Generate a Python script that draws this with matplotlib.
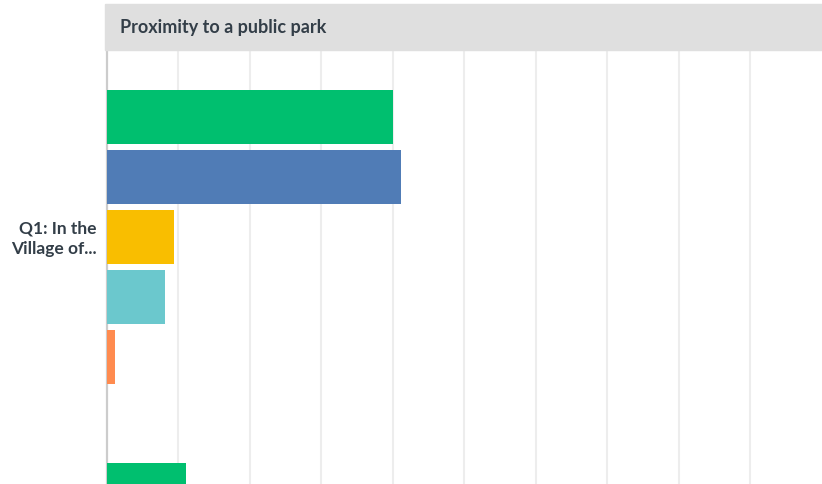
import matplotlib.pyplot as plt
from matplotlib.patches import Rectangle

# percent of respondents
q1_values = [40.0, 41.2, 9.4, 8.2, 1.2]
q2_values = [11.1]          # next question, only its first bar shows
colors = ["#00bf6f", "#507cb6", "#f9be00", "#6bc8cd", "#ff8b4f"]
group_label = "Q1: In the\nVillage of..."
title = "Proximity to a public park"

W, H = 822, 485
fig = plt.figure(figsize=(W / 100, H / 100), dpi=100)
plt.rcParams['font.family'] = ['Lato', 'DejaVu Sans']

# header band
fig.patches.append(Rectangle((105 / W, 1 - 51 / H), (W - 105) / W, 46 / H,
                             transform=fig.transFigure, color="#dfdfdf", zorder=0))
fig.text(120 / W, 1 - 27 / H, title, fontsize=13, fontweight="bold",
         color="#333e48", va="center", ha="left")

ax = fig.add_axes([106.7 / W, 0, 715 / W, (H - 51) / H])
ax.set_xlim(0, 100)
pitch = 373 / 60
offset = 67 / 60
ax.set_ylim((H - 51) / 60, 0)

for i, v in enumerate(q1_values):
    ax.barh(offset + i, v, height=0.9, color=colors[i], zorder=3)
for i, v in enumerate(q2_values):
    ax.barh(pitch + offset + i, v, height=0.9, color=colors[i], zorder=3)

ax.set_xticks(range(10, 100, 10))
ax.grid(axis="x", color="#ededed", linewidth=1.5, zorder=0)
ax.tick_params(length=0, labelbottom=False)
ax.set_yticks([offset + 1.95])
ax.set_yticklabels([group_label], fontsize=12.5, fontweight="bold",
                   color="#333e48", linespacing=1.35)
ax.tick_params(axis="y", pad=7)
for s in ["top", "right", "bottom"]:
    ax.spines[s].set_visible(False)
ax.spines["left"].set_color("#cccccc")
ax.spines["left"].set_linewidth(1.6)

fig.savefig("out.png", dpi=100)
